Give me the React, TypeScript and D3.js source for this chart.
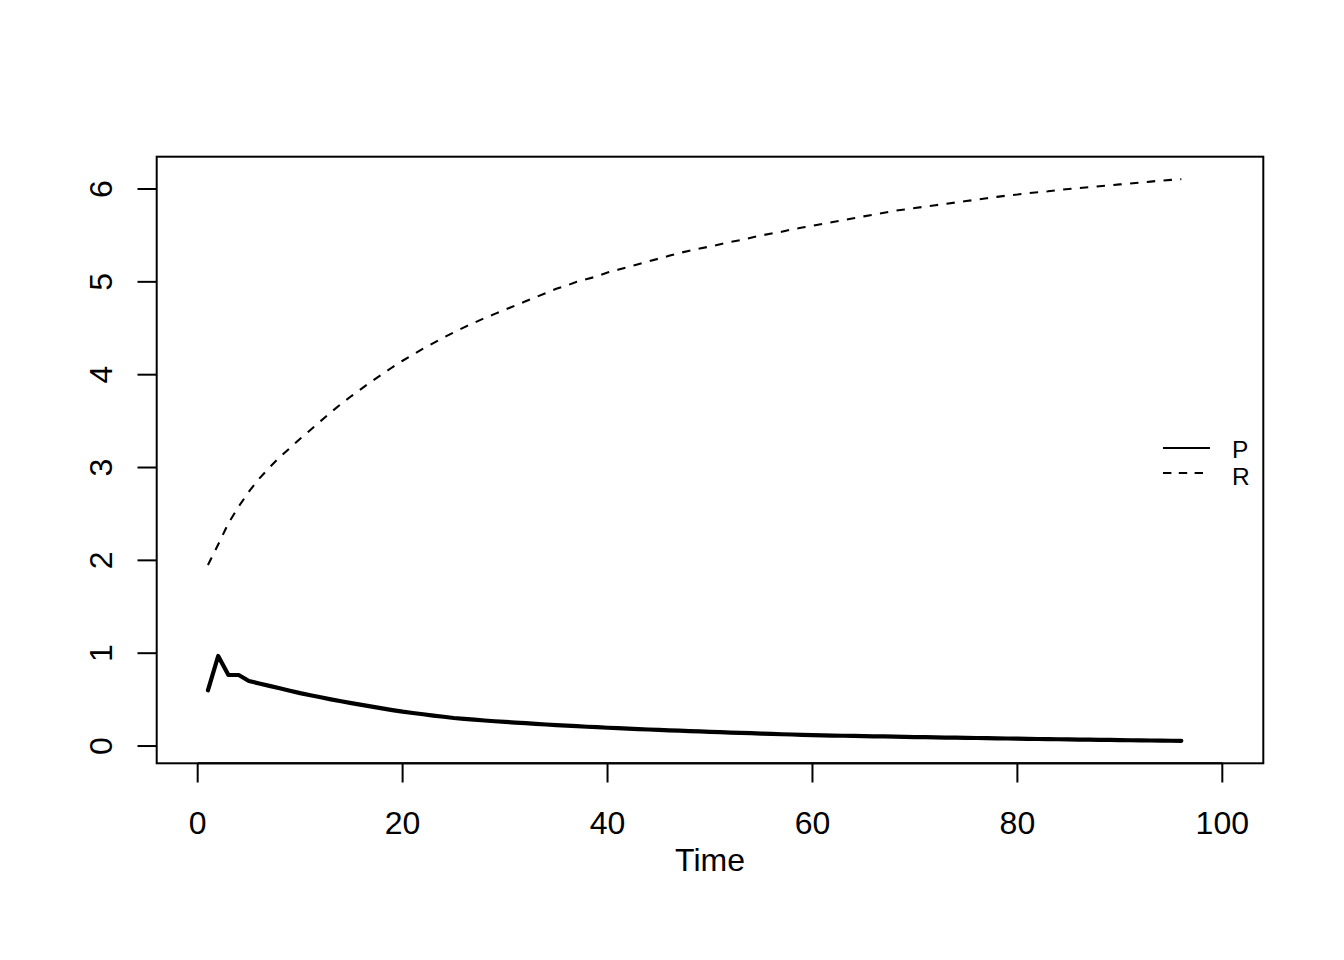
import React from "react";
import * as d3 from "d3";

const pValues: number[] = [
  0.60, 0.97, 0.765, 0.765, 0.70, 0.674, 0.648, 0.622, 0.596, 0.57,
  0.547, 0.525, 0.503, 0.482, 0.462, 0.443, 0.424, 0.405, 0.387, 0.37,
  0.356, 0.342, 0.328, 0.315, 0.302, 0.292, 0.284, 0.275, 0.267, 0.26,
  0.253, 0.246, 0.239, 0.232, 0.226, 0.22, 0.214, 0.208, 0.203, 0.197,
  0.192, 0.187, 0.183, 0.178, 0.174, 0.169, 0.165, 0.161, 0.157, 0.153,
  0.149, 0.145, 0.141, 0.138, 0.134, 0.131, 0.127, 0.124, 0.121, 0.118,
  0.115, 0.113, 0.111, 0.109, 0.107, 0.105, 0.103, 0.101, 0.099, 0.097,
  0.095, 0.093, 0.091, 0.0895, 0.088, 0.0865, 0.085, 0.0835, 0.081, 0.079,
  0.0775, 0.076, 0.0745, 0.073, 0.0715, 0.07, 0.0685, 0.067, 0.0655, 0.064,
  0.0625, 0.061, 0.0595, 0.058, 0.057, 0.056,
];

const rValues: number[] = [
  1.95, 2.17, 2.40, 2.58, 2.74, 2.88, 3.00, 3.11, 3.21, 3.31,
  3.405, 3.50, 3.595, 3.685, 3.77, 3.85, 3.93, 4.005, 4.08, 4.15,
  4.215, 4.28, 4.34, 4.40, 4.455, 4.51, 4.56, 4.61, 4.655, 4.70,
  4.745, 4.79, 4.835, 4.88, 4.925, 4.96, 5.0, 5.03, 5.06, 5.10,
  5.13, 5.16, 5.19, 5.22, 5.25, 5.28, 5.31, 5.335, 5.36, 5.38,
  5.405, 5.43, 5.45, 5.475, 5.50, 5.52, 5.54, 5.565, 5.585, 5.605,
  5.625, 5.645, 5.665, 5.685, 5.705, 5.725, 5.745, 5.765, 5.78, 5.795,
  5.81, 5.825, 5.84, 5.855, 5.87, 5.885, 5.90, 5.915, 5.93, 5.94,
  5.955, 5.965, 5.975, 5.99, 6.0, 6.01, 6.02, 6.03, 6.04, 6.05,
  6.06, 6.07, 6.08, 6.09, 6.098, 6.106,
];

const timeValues: number[] = pValues.map((_, i) => i + 1);
const xTicks: number[] = [0, 20, 40, 60, 80, 100];
const yTicks: number[] = [0, 1, 2, 3, 4, 5, 6];
const xLimits: [number, number] = [0, 100];
const legendLabels: string[] = ["P", "R"];
const xLabel = "Time";

const W = 1344;
const H = 960;
const left = 156.7;
const right = 1263.3;
const top = 156.7;
const bottom = 763.3;
const FONT = "'Liberation Sans', Arial, Helvetica, sans-serif";

export default function App() {
  const xr = xLimits[1] - xLimits[0];
  const x = d3
    .scaleLinear()
    .domain([xLimits[0] - 0.04 * xr, xLimits[1] + 0.04 * xr])
    .range([left, right]);
  const yMin = Math.min(d3.min(pValues)!, d3.min(rValues)!);
  const yMax = Math.max(d3.max(pValues)!, d3.max(rValues)!);
  const yr = yMax - yMin;
  const y = d3
    .scaleLinear()
    .domain([yMin - 0.04 * yr, yMax + 0.04 * yr])
    .range([bottom, top]);

  const line = d3
    .line<number>()
    .x((_, i) => x(timeValues[i]))
    .y((d) => y(d));

  const tickLen = 19.2;

  return (
    <svg
      width={W}
      height={H}
      style={{ position: "absolute", left: 0, top: 0, background: "#fff" }}
      fontFamily={FONT}
    >
      <rect x={0} y={0} width={W} height={H} fill="#fff" />
      {/* data lines */}
      <path
        d={line(rValues) || ""}
        fill="none"
        stroke="#000"
        strokeWidth={2.1}
        strokeDasharray="8.4,8.4"
      />
      <path
        d={line(pValues) || ""}
        fill="none"
        stroke="#000"
        strokeWidth={4.2}
        strokeLinejoin="round"
        strokeLinecap="round"
      />
      {/* box */}
      <rect
        x={left}
        y={top}
        width={right - left}
        height={bottom - top}
        fill="none"
        stroke="#000"
        strokeWidth={2}
      />
      {/* x axis */}
      <line
        x1={x(xTicks[0])}
        x2={x(xTicks[xTicks.length - 1])}
        y1={bottom}
        y2={bottom}
        stroke="#000"
        strokeWidth={2}
      />
      {xTicks.map((t) => (
        <g key={"xt" + t}>
          <line
            x1={x(t)}
            x2={x(t)}
            y1={bottom}
            y2={bottom + tickLen}
            stroke="#000"
            strokeWidth={2}
          />
          <text x={x(t)} y={834} fontSize={32} textAnchor="middle" fill="#000">
            {t}
          </text>
        </g>
      ))}
      {/* y axis */}
      {yTicks.map((t) => (
        <g key={"yt" + t}>
          <line
            x1={left - tickLen}
            x2={left}
            y1={y(t)}
            y2={y(t)}
            stroke="#000"
            strokeWidth={2}
          />
          <text
            x={112.5}
            y={y(t)}
            fontSize={32}
            textAnchor="middle"
            fill="#000"
            transform={`rotate(-90, 112.5, ${y(t)})`}
          >
            {t}
          </text>
        </g>
      ))}
      <text x={(left + right) / 2} y={871} fontSize={32} textAnchor="middle" fill="#000">
        {xLabel}
      </text>
      {/* legend */}
      <g>
        <line x1={1163} x2={1210} y1={448} y2={448} stroke="#000" strokeWidth={2.1} />
        <line
          x1={1163}
          x2={1210}
          y1={473}
          y2={473}
          stroke="#000"
          strokeWidth={2.1}
          strokeDasharray="8.4,7.4"
        />
        <text x={1232} y={457.5} fontSize={24.5} fill="#000">
          {legendLabels[0]}
        </text>
        <text x={1232} y={485} fontSize={24.5} fill="#000">
          {legendLabels[1]}
        </text>
      </g>
    </svg>
  );
}
